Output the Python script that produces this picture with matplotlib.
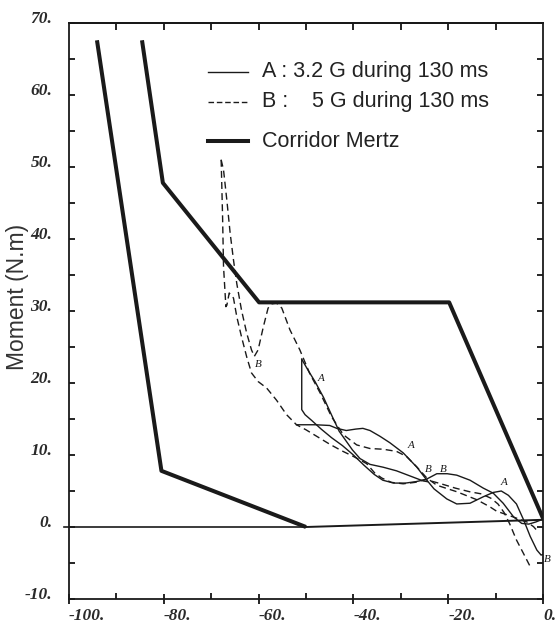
import numpy as np
import matplotlib.pyplot as plt
from matplotlib.transforms import ScaledTranslation

# Mertz corridor
upper_x = [-84.6, -80.2, -59.9, -19.8, 0.0]
upper_y = [67.6, 47.8, 31.2, 31.2, 1.2]
lower_x = [-94.1, -80.5, -50.0]
lower_y = [67.6, 7.8, 0.0]
tail_x = [-50.0, 0.0]
tail_y = [0.0, 1.0]
zero_x = [-101.0, -50.0]
zero_y = [0.0, 0.0]

# A : 3.2 G (solid)
a1_x = [-50.9, -50.9, -50.2, -48.8, -46.8, -44.6, -42.3, -40.0, -37.8, -35.6, -33.8, -31.5,
        -29.0, -26.8, -24.7, -22.4, -20.2, -18.2, -15.4, -12.6, -10.5, -8.4, -6.2, -4.5,
        -3.0, -1.5, 0.0]
a1_y = [23.3, 16.3, 15.6, 14.8, 13.6, 12.4, 11.3, 10.0, 8.6, 7.3, 6.5, 6.1,
        6.1, 6.3, 6.6, 7.4, 7.4, 7.2, 6.5, 5.4, 4.7, 3.3, 1.4, 0.5,
        0.4, 0.7, 1.1]
a2_x = [-52.0, -48.0, -45.0, -43.5, -41.5, -39.5, -38.0, -36.5, -34.4, -32.3, -29.5, -26.6,
        -24.5, -23.0, -20.3, -18.2, -15.4, -12.6, -10.5, -8.8, -7.3, -5.6, -4.1, -2.7,
        -1.3, -0.4, 0.0]
a2_y = [14.2, 14.2, 14.1, 13.7, 13.4, 13.6, 13.7, 13.4, 12.6, 11.7, 10.3, 8.3,
        6.5, 5.3, 3.9, 3.2, 3.3, 4.2, 4.8, 5.0, 4.4, 3.2, 1.0, -1.3,
        -3.2, -3.9, -3.8]
a3_x = [-50.9, -49.5, -48.1, -46.3, -44.5, -43.0, -41.6, -40.2, -38.6, -36.5, -33.7, -30.9,
        -28.1, -25.3, -24.4]
a3_y = [23.3, 21.7, 20.2, 18.0, 15.4, 13.3, 12.0, 10.7, 9.5, 8.7, 8.3, 7.8,
        7.1, 6.4, 6.3]

# B : 5 G (dashed)
b1_x = [-67.9, -67.6, -67.4, -67.1, -66.9, -66.7, -66.2, -65.3, -64.6, -63.6, -62.5, -61.5,
        -60.1, -58.3, -56.2, -54.1, -52.0, -50.0, -47.5, -45.0, -42.5, -40.0, -37.2, -35.5,
        -34.0, -32.0, -29.5, -27.0, -24.8, -21.5, -18.5, -15.5, -13.0, -11.0, -9.5, -8.2,
        -7.0, -5.6, -4.1, -2.7]
b1_y = [51.0, 43.1, 36.2, 32.8, 30.6, 30.8, 32.5, 31.8, 29.2, 26.4, 23.6, 21.4,
        20.2, 19.3, 17.6, 15.6, 14.2, 13.5, 12.5, 11.5, 10.6, 9.8, 8.8, 7.5,
        6.8, 6.2, 6.0, 6.2, 6.6, 6.0, 5.4, 4.9, 4.6, 4.0, 3.2, 2.0,
        0.4, -1.8, -3.7, -5.5]
b2_x = [-67.9, -67.4, -66.7, -66.0, -65.3, -64.6, -63.6, -62.5, -61.5, -60.9, -60.1, -59.0,
        -58.0, -57.2, -56.2, -55.1, -53.4, -51.3, -49.2, -47.0, -44.6, -42.1, -39.3, -36.5,
        -33.7, -30.9, -28.8, -26.7, -24.5, -22.4, -18.2, -14.0, -11.2, -9.8, -6.3, -3.4,
        -2.0, -1.0]
b2_y = [51.0, 49.6, 45.4, 40.8, 37.1, 33.8, 30.1, 26.9, 24.6, 23.7, 24.6, 27.8,
        30.4, 31.0, 31.1, 30.4, 27.4, 24.6, 21.3, 18.6, 15.3, 12.8, 11.4, 10.9,
        10.8, 10.5, 9.8, 8.4, 6.8, 5.8, 4.9, 3.8, 2.8, 2.2, 1.4, 0.7,
        0.05, -0.7]

# small curve tags
tag_text = ['B', 'A', 'A', 'B', 'B', 'A', 'B']
tag_x = [-60.7, -47.6, -28.6, -25.0, -21.8, -8.9, 0.2]
tag_y = [22.0, 20.0, 10.7, 7.3, 7.3, 5.6, -5.2]

ink = '#1a1a1a'
fig = plt.figure(figsize=(5.56, 6.23), dpi=100)
ax = fig.add_axes([69 / 556, 1 - 599 / 623, 474 / 556, 576 / 623])

ax.plot(upper_x, upper_y, color=ink, lw=2.9, solid_capstyle='butt')
ax.plot(lower_x, lower_y, color=ink, lw=2.9, solid_capstyle='butt')
ax.plot(tail_x, tail_y, color=ink, lw=1.4)
ax.plot(zero_x, zero_y, color=ink, lw=1.2, clip_on=False)

for xs, ys in [(a1_x, a1_y), (a2_x, a2_y), (a3_x, a3_y)]:
    ax.plot(xs, ys, color=ink, lw=1.0)
for xs, ys in [(b1_x, b1_y), (b2_x, b2_y)]:
    ax.plot(xs, ys, color=ink, lw=1.0, dashes=(5, 3))

for t, x, y in zip(tag_text, tag_x, tag_y):
    ax.text(x, y, t, fontsize=8, family='Liberation Serif', style='italic',
            color=ink, ha='left', va='bottom')

# legend drawn by hand
ax.plot([0.293, 0.378], [0.915, 0.915], transform=ax.transAxes, color=ink, lw=1.0)
ax.plot([0.293, 0.378], [0.863, 0.863], transform=ax.transAxes, color=ink, lw=1.0,
        dashes=(4, 2))
ax.plot([0.293, 0.378], [0.795, 0.795], transform=ax.transAxes, color=ink, lw=2.9)
lfont = dict(family='Liberation Sans', fontsize=15.5, color='#222222', va='center',
             transform=ax.transAxes)
ax.text(0.407, 0.915, 'A : 3.2 G during 130 ms', **lfont)
ax.text(0.407, 0.863, 'B :', **lfont)
ax.text(0.513, 0.863, '5 G during 130 ms', **lfont)
ax.text(0.407, 0.795, 'Corridor Mertz', **lfont)

ax.set_xlim(-100, 0)
ax.set_ylim(-10, 70)
ax.set_xticks(np.arange(-100, 1, 20))
ax.set_xticks(np.arange(-90, 0, 20), minor=True)
ax.set_yticks(np.arange(-10, 71, 10))
ax.set_yticks(np.arange(-5, 70, 10), minor=True)
ax.set_xticklabels([f'{v}.' for v in range(-100, 1, 20)])
ax.set_yticklabels([f'{v}.' for v in range(-10, 71, 10)])

ax.tick_params(axis='x', which='major', direction='inout', length=7, width=1.2, pad=3)
ax.tick_params(axis='x', which='minor', direction='in', length=4, width=1.2)
ax.tick_params(axis='y', which='major', direction='in', length=4, width=1.2,
               right=True, pad=12)
ax.tick_params(axis='y', which='minor', direction='in', length=4, width=1.2, right=True)
for sp in ax.spines.values():
    sp.set_linewidth(1.3)
    sp.set_color(ink)

# top ticks point inward only
top = ax.secondary_xaxis('top')
top.set_xticks(np.arange(-90, 0, 10))
top.set_xticklabels([])
top.tick_params(direction='in', length=5, width=1.2)
top.spines['top'].set_linewidth(1.3)

tfont = dict(family='Liberation Serif', style='italic', weight='bold', size=12.5)
for lab in ax.get_xticklabels():
    lab.set(**tfont, color='#2a2a2a', ha='left')
for lab in ax.get_yticklabels():
    lab.set(**tfont, color='#2a2a2a')
    lab.set_transform(lab.get_transform() + ScaledTranslation(0, 0.06, fig.dpi_scale_trans))

fig.text(18 / 556, 1 - 297 / 623, 'Moment (N.m)', rotation=90, ha='center', va='center',
         family='Liberation Sans', fontsize=16.5, color='#333333')

fig.savefig('out.png', dpi=100)
